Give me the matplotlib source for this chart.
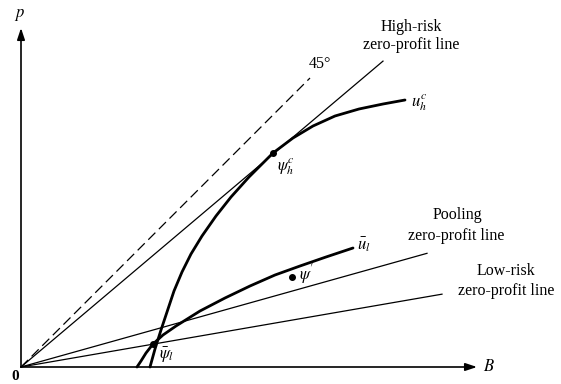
import matplotlib
matplotlib.use("Agg")
import matplotlib.pyplot as plt

plt.rcParams.update({
    "font.family": ["Liberation Serif", "DejaVu Serif"],
    "mathtext.fontset": "stix",
    "font.size": 11.5,
})

# zero-profit lines through the origin: p = slope * B, drawn up to B_end
line_names = ["45", "high", "pool", "low"]
line_slopes = [1.0, 0.845, 0.28, 0.173]
line_ends = [2.89, 3.62, 4.06, 4.21]

# indifference curves (B, p)
uh_B = [1.29, 1.34, 1.40, 1.46, 1.53, 1.61, 1.70, 1.81, 1.95, 2.10, 2.28,
        2.52, 2.72, 2.92, 3.14, 3.38, 3.62, 3.84]
uh_p = [0.00, 0.18, 0.37, 0.55, 0.76, 0.95, 1.13, 1.31, 1.51, 1.70, 1.90,
        2.14, 2.29, 2.41, 2.51, 2.58, 2.63, 2.67]
ul_B = [1.16, 1.20, 1.25, 1.32, 1.42, 1.55, 1.79, 2.04, 2.29, 2.54, 2.79,
        3.05, 3.32]
ul_p = [0.00, 0.06, 0.14, 0.23, 0.32, 0.41, 0.56, 0.69, 0.81, 0.92, 1.01,
        1.10, 1.19]

# marked contracts
pt_B = [2.52, 2.71, 1.32]
pt_p = [2.14, 0.90, 0.23]

fig = plt.figure(figsize=(5.61, 3.84), dpi=100)
ax = fig.add_axes([0, 0, 1, 1])
ax.set_xlim(-0.21, 5.40)
ax.set_ylim(-0.17, 3.67)
ax.axis("off")

# axes with arrows
arrow = dict(arrowstyle="-|>,head_length=0.6,head_width=0.2", lw=1.2,
             color="black", shrinkA=0, shrinkB=0)
ax.annotate("", xy=(0, 3.39), xytext=(0, 0), arrowprops=arrow)
ax.annotate("", xy=(4.56, 0), xytext=(0, 0), arrowprops=arrow)

for name, s, e in zip(line_names, line_slopes, line_ends):
    if name == "45":
        ax.plot([0, e], [0, s * e], color="black", lw=0.9,
                linestyle=(0, (8, 4)))
    else:
        ax.plot([0, e], [0, s * e], color="black", lw=0.9)

ax.plot(uh_B, uh_p, color="black", lw=2.0, solid_capstyle="round",
        solid_joinstyle="round")
ax.plot(ul_B, ul_p, color="black", lw=2.0, solid_capstyle="round",
        solid_joinstyle="round")
ax.plot(pt_B, pt_p, "o", color="black", ms=4)

ax.text(-0.01, 3.52, "$p$", ha="center", va="center", fontsize=12)
ax.text(-0.06, -0.10, "0", ha="center", va="center", fontsize=11,
        fontweight="bold")
ax.text(4.62, 0, "$B$", ha="left", va="center", fontsize=12)
ax.text(2.99, 3.03, "45°", ha="center", va="center")
ax.text(3.90, 3.40, "High-risk", ha="center", va="center")
ax.text(3.90, 3.22, "zero-profit line", ha="center", va="center")
ax.text(4.36, 1.52, "Pooling", ha="center", va="center")
ax.text(4.35, 1.31, "zero-profit line", ha="center", va="center")
ax.text(4.85, 0.96, "Low-risk", ha="center", va="center")
ax.text(4.85, 0.76, "zero-profit line", ha="center", va="center")
ax.text(3.90, 2.64, "$u_h^c$", ha="left", va="center", fontsize=12)
ax.text(3.36, 1.22, r"$\bar{u}_l$", ha="left", va="center", fontsize=12)
ax.text(2.56, 2.00, r"$\psi_h^c$", ha="left", va="center", fontsize=12)
ax.text(2.78, 0.93, r"$\psi'$", ha="left", va="center", fontsize=12)
ax.text(1.46, 0.12, r"$\bar{\psi}_l$", ha="center", va="center", fontsize=12)

fig.savefig("out.png", dpi=100)
